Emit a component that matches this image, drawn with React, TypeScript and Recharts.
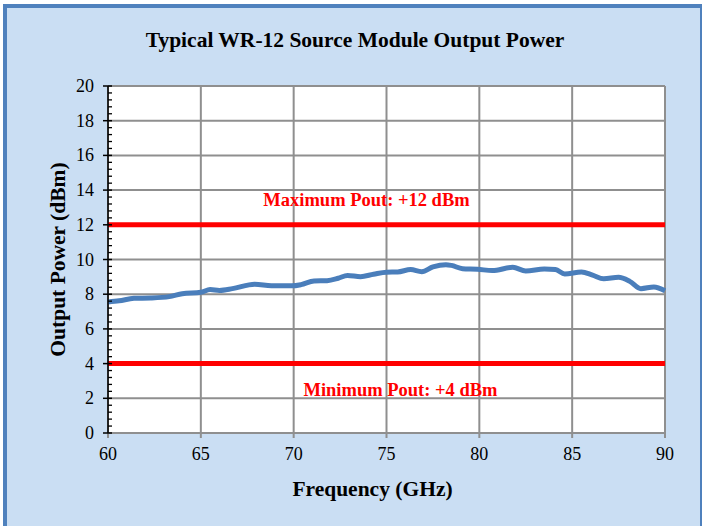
import React from 'react';
import {
  LineChart,
  Line,
  XAxis,
  YAxis,
  CartesianGrid,
  ReferenceLine
} from 'recharts';

const frequency = [
  60, 60.6, 61.4, 62.3, 63.3, 64.0, 65.0, 65.5, 66.0, 66.7, 67.9, 68.8, 69.9, 70.4,
  71.1, 71.8, 72.4, 72.9, 73.6, 74.3, 75.0, 75.6, 76.3, 76.9, 77.5, 78.2, 78.5, 79.1,
  79.9, 80.7, 81.8, 82.5, 83.5, 84.1, 84.6, 85.5, 86.1, 86.7, 87.5, 88.1, 88.7, 89.4, 90
];
const outputPower = [
  7.55, 7.62, 7.76, 7.78, 7.86, 8.03, 8.11, 8.27, 8.22, 8.32, 8.58, 8.49, 8.48, 8.55,
  8.76, 8.78, 8.92, 9.08, 9.01, 9.15, 9.27, 9.28, 9.42, 9.3, 9.57, 9.7, 9.66, 9.47,
  9.44, 9.36, 9.55, 9.34, 9.45, 9.42, 9.17, 9.28, 9.1, 8.89, 8.97, 8.74, 8.32, 8.42, 8.2
];

const xTicks = [60, 65, 70, 75, 80, 85, 90];
const yMajor = [0, 2, 4, 6, 8, 10, 12, 14, 16, 18, 20];
const maxPout = 12;
const minPout = 4;

const SERIF = "'Liberation Serif', 'DejaVu Serif', serif";

// 4 minor ticks between each major one
const yAll: number[] = [];
yMajor.forEach((v, i) => {
  yAll.push(v);
  if (i < yMajor.length - 1) {
    for (let k = 1; k < 5; k++) yAll.push(Math.round((v + (k * 2) / 5) * 10) / 10);
  }
});

const data = frequency.map((f, i) => ({ f, p: outputPower[i] }));

function YTick(props: any) {
  const { x, y, payload } = props;
  const v = payload.value;
  const major = yMajor.includes(v);
  if (!major) {
    return <line x1={x} x2={x + 4} y1={y} y2={y} stroke="#000" strokeWidth={1.3} />;
  }
  return (
    <g>
      <line x1={x - 5} x2={x + 4} y1={y} y2={y} stroke="#000" strokeWidth={1.5} />
      <text x={x - 14} y={y} dy={6} textAnchor="end" fontSize={18} style={{ fontFamily: SERIF }} fill="#000">
        {v}
      </text>
    </g>
  );
}

export default function App() {
  return (
    <div style={{ position: 'absolute', left: 0, top: 0, width: 702, height: 526, overflow: 'hidden', background: '#fff', fontFamily: SERIF }}>
      <div
        style={{
          position: 'absolute',
          left: 3,
          top: 4,
          width: 693,
          height: 540,
          background: '#cadef3',
          borderLeft: '4px solid #4f81bd',
          borderTop: '4px solid #4f81bd',
          borderRight: '3px solid #4f81bd'
        }}
      />
      <div
        style={{
          position: 'absolute',
          left: 0,
          top: 28,
          width: 710,
          textAlign: 'center',
          fontFamily: SERIF,
          fontWeight: 'bold',
          fontSize: 21.5,
          color: '#000'
        }}
      >
        Typical WR-12 Source Module Output Power
      </div>
      <div style={{ position: 'absolute', left: 0, top: 0 }}>
        <LineChart width={702} height={526} data={data} margin={{ top: 86, right: 37, bottom: 0, left: 0 }}>
          <CartesianGrid
            fill="#fff"
            stroke="#8f8f8f"
            strokeWidth={2}
            horizontalValues={yMajor}
            verticalValues={xTicks}
          />
          <XAxis
            dataKey="f"
            type="number"
            domain={[60, 90]}
            ticks={xTicks}
            interval={0}
            height={93}
            tickSize={5}
            tickMargin={9}
            stroke="#8f8f8f"
            strokeWidth={2}
            tick={{ fontSize: 18, fill: '#000', style: { fontFamily: SERIF } }}
            label={{
              value: 'Frequency (GHz)',
              position: 'center',
              dx: -14,
              dy: 9,
              style: { fontSize: 21.5, fontWeight: 'bold', fontFamily: SERIF, fill: '#000' }
            }}
          />
          <YAxis
            type="number"
            domain={[0, 20]}
            ticks={yAll}
            interval={0}
            width={108}
            tickSize={0}
            tickMargin={0}
            tickLine={false}
            stroke="#000"
            strokeWidth={1.5}
            tick={<YTick />}
            label={{
              value: 'Output Power (dBm)',
              angle: -90,
              position: 'center',
              dx: 3,
              style: { fontSize: 21.5, fontWeight: 'bold', fontFamily: SERIF, fill: '#000' }
            }}
          />
          <ReferenceLine
            y={maxPout}
            stroke="#ff0000"
            strokeWidth={5}
            label={{
              value: 'Maximum Pout: +12 dBm',
              position: 'center',
              dx: -20,
              dy: -25,
              style: { fontSize: 18.5, fontWeight: 'bold', fontFamily: SERIF, fill: '#ff0000' }
            }}
          />
          <ReferenceLine
            y={minPout}
            stroke="#ff0000"
            strokeWidth={5}
            label={{
              value: 'Minimum Pout: +4 dBm',
              position: 'center',
              dx: 14,
              dy: 26,
              style: { fontSize: 18.5, fontWeight: 'bold', fontFamily: SERIF, fill: '#ff0000' }
            }}
          />
          <Line
            type="monotone"
            dataKey="p"
            stroke="#4a7ebb"
            strokeWidth={5}
            dot={false}
            activeDot={false}
            isAnimationActive={false}
          />
        </LineChart>
      </div>
    </div>
  );
}
